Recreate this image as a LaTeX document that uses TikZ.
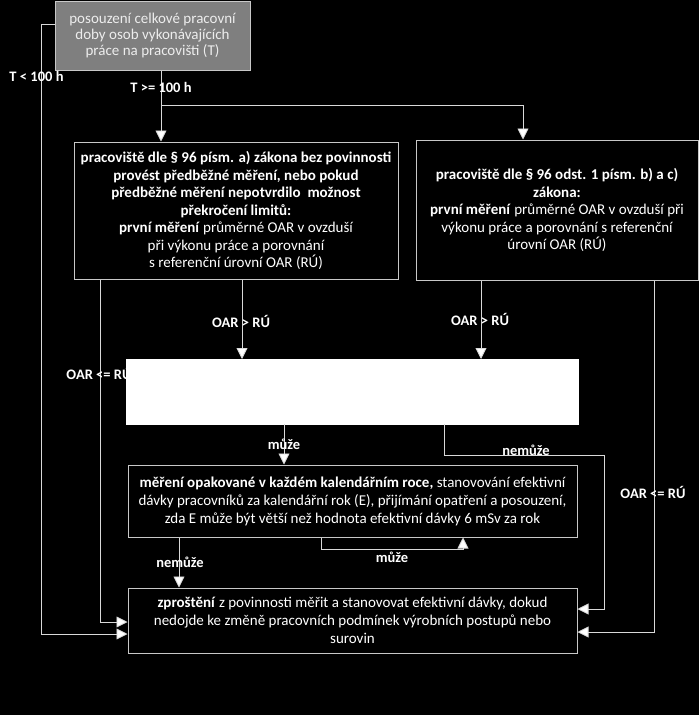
\documentclass[tikz,border=0pt]{standalone}
\usepackage{fontspec}
\setmainfont{Carlito}
\usetikzlibrary{arrows.meta,calc}
\definecolor{ln}{HTML}{D9D9D9}
\definecolor{bd}{HTML}{C8C8C8}
\definecolor{topfill}{HTML}{7F7F7F}
\definecolor{toptext}{HTML}{EDEDED}
\begin{document}
\begin{tikzpicture}[x=1pt,y=-1pt,
  box/.style={draw=bd, line width=1pt, inner sep=0pt, align=center, text=white,
    font=\fontsize{15}{17.5}\selectfont},
  arr/.style={draw=ln, line width=0.9pt, -{Triangle[width=11pt,length=11pt,fill=white]}},
  con/.style={draw=ln, line width=0.9pt},
  lab/.style={font=\bfseries\fontsize{14.5}{17}\selectfont, text=white, inner sep=0pt}]
\fill[black] (0,0) rectangle (699,715);
\useasboundingbox (0,0) rectangle (699,715);

% guide coordinates
\coordinate (j1) at (161,105);
\coordinate (xr) at (523,0);
\coordinate (xa) at (100,0);
\coordinate (xb) at (242,0);
\coordinate (xc) at (481,0);
\coordinate (xd) at (654,0);
\coordinate (xe) at (284,0);
\coordinate (xf) at (444,0);
\coordinate (xg) at (604,455);
\coordinate (xh) at (179,0);
\coordinate (xi) at (321,549);
\coordinate (xj) at (463,549);

% boxes
\node[box, fill=topfill, text=toptext, font=\fontsize{15}{16.2}\selectfont,
  minimum width=195pt, minimum height=69pt] (top) at (152.5,35.5)
  {posouzení celkové pracovní\\doby osob vykonávajících\\práce na pracovišti (T)};

\node[box, minimum width=324pt, minimum height=137pt] (left) at (236,210.5)
  {\textbf{pracoviště dle § 96 písm. a) zákona bez povinnosti}\\
   \textbf{provést předběžné měření, nebo pokud}\\
   \textbf{předběžné měření nepotvrdilo \ možnost}\\
   \textbf{překročení limitů:}\\
   \textbf{první měření} průměrné OAR v ovzduší\\
   při výkonu práce a porovnání\\
   s referenční úrovní OAR (RÚ)};

\node[box, minimum width=282pt, minimum height=140pt] (right) at (557,210)
  {\textbf{pracoviště dle § 96 odst. 1 písm. b) a c)}\\
   \textbf{zákona:}\\
   \textbf{první měření} průměrné OAR v ovzduší při\\
   výkonu práce a porovnání s referenční\\
   úrovní OAR (RÚ)};

\node[box, minimum width=449pt, minimum height=72pt, font=\fontsize{15}{18}\selectfont] (mid) at (352.5,501)
  {\textbf{měření opakované v každém kalendářním roce,} stanovování efektivní\\
   dávky pracovníků za kalendářní rok (E), přijímání opatření a posouzení,\\
   zda E může být větší než hodnota efektivní dávky 6 mSv za rok};

\node[box, minimum width=449pt, minimum height=65pt, font=\fontsize{15}{18}\selectfont] (bot) at (352.5,620.5)
  {\textbf{zproštění} z povinnosti měřit a stanovovat efektivní dávky, dokud\\
   nedojde ke změně pracovních podmínek výrobních postupů nebo\\
   surovin};

% connectors
\draw[arr] ([yshift=11.5pt]top.west) -- ++(-13,0) |- ([yshift=-13.5pt]bot.west);
\draw[con] (top.south -| j1) -- (j1);
\draw[arr] (j1) -- (j1 |- left.north);
\draw[arr] (j1) -| (right.north -| xr);

\draw[arr] (left.south -| xa) |- ([yshift=-1.5pt]bot.west);
\draw[arr] (left.south -| xb) -- (xb |- 0,359);
\draw[arr] (right.south -| xc) -- (xc |- 0,359);
\draw[arr] (right.south -| xd) |- ([yshift=-11.5pt]bot.east);

% labels
\node[lab] (t1) at (36.5,76) {T < 100 h};
\node[lab] (t2) at (161,87) {T >= 100 h};
\node[lab] (o1) at (99,373) {OAR <= RÚ};
\node[lab] (o2) at (241,321) {OAR > RÚ};
\node[lab] (o3) at (480,319) {OAR > RÚ};
\node[lab] (o4) at (653,492) {OAR <= RÚ};

% white box (covers part of label)
\node[draw=white, fill=white, minimum width=452pt, minimum height=65pt, inner sep=0pt] (wb) at (352,391.5) {};

\draw[arr] (wb.south -| xe) -- (mid.north -| xe);
\draw[arr] (wb.south -| xf) |- (xg) |- ([yshift=11.5pt]bot.east);
\draw[arr] (mid.south -| xh) -- (bot.north -| xh);
\draw[arr] (mid.south -| xi) -- (xi) -- (xj) -- (mid.south -| xj);

\node[lab] (m1) at (284,444) {může};
\node[lab] (n1) at (526,450) {nemůže};
\node[lab] (m2) at (392,557) {může};
\node[lab] (n2) at (180,562) {nemůže};
\end{tikzpicture}
\end{document}
